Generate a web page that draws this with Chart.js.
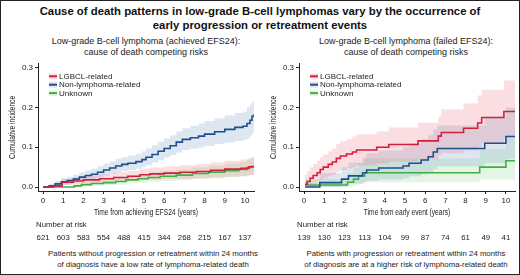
<!DOCTYPE html>
<html>
<head>
<meta charset="utf-8">
<script src="https://cdn.jsdelivr.net/npm/chart.js@4/dist/chart.umd.min.js"></script>
<style>
  body { margin: 0; background: #fff; }
  #frame { position: relative; width: 520px; height: 275px; box-sizing: border-box; border: 1px solid #222; overflow: hidden; font-family: "Liberation Sans", Arial, sans-serif; color: #222; }
  .t { position: absolute; text-align: center; white-space: nowrap; }
  #title { left: 0; width: 518px; top: 4px; font-weight: bold; font-size: 11.35px; line-height: 13.5px; color: #111; }
  .sub { font-size: 9px; line-height: 11px; top: 35px; width: 260px; }
  .foot { font-size: 7.8px; line-height: 10.5px; top: 248px; width: 260px; }
  canvas { position: absolute; top: 56px; }
</style>
</head>
<body>
<div id="frame">
  <div id="title" class="t">Cause of death patterns in low-grade B-cell lymphomas vary by the occurrence of<br>early progression or retreatment events</div>
  <div class="t sub" style="left:15px">Low-grade B-cell lymphoma (achieved EFS24):<br>cause of death competing risks</div>
  <div class="t sub" style="left:275px">Low-grade B-cell lymphoma (failed EFS24):<br>cause of death competing risks</div>
  <canvas id="left" width="260" height="190" style="left:0"></canvas>
  <canvas id="right" width="260" height="190" style="left:261px"></canvas>
  <div class="t foot" style="left:22px">Patients without progression or retreatment within 24 months<br>of diagnosis have a low rate of lymphoma-related death</div>
  <div class="t foot" style="left:275px">Patients with progression or retreatment within 24 months<br>of diagnosis are at a higher risk of lymphoma-related death</div>
</div>
<script>
// rows: [time, estimate, lower CI, upper CI]
const leftLgbcl = [
  [0, 0, 0, 0], [0.5, 0.003, 0, 0.009], [0.95, 0.012, 0.005, 0.02], [1.5, 0.015, 0.007, 0.025],
  [2.0, 0.018, 0.009, 0.029], [2.8, 0.021, 0.011, 0.033], [3.5, 0.024, 0.013, 0.037],
  [4.2, 0.027, 0.015, 0.041], [4.8, 0.031, 0.018, 0.046], [5.3, 0.033, 0.019, 0.049],
  [6.0, 0.035, 0.02, 0.052], [6.8, 0.037, 0.021, 0.055], [7.6, 0.039, 0.022, 0.058],
  [8.3, 0.042, 0.024, 0.062], [9.0, 0.045, 0.026, 0.066], [9.8, 0.047, 0.027, 0.069],
  [10.2, 0.051, 0.03, 0.074], [10.45, 0.052, 0.031, 0.076]
];
const leftOther = [
  [0, 0, 0, 0], [0.3, 0.003, 0, 0.008], [0.6, 0.008, 0.003, 0.015], [0.9, 0.013, 0.006, 0.022],
  [1.2, 0.016, 0.008, 0.026], [1.5, 0.02, 0.011, 0.031], [1.8, 0.025, 0.015, 0.037],
  [2.1, 0.029, 0.018, 0.042], [2.4, 0.032, 0.02, 0.046], [2.7, 0.037, 0.024, 0.052],
  [3.0, 0.043, 0.029, 0.059], [3.3, 0.048, 0.033, 0.065], [3.6, 0.053, 0.037, 0.071],
  [3.9, 0.057, 0.04, 0.075], [4.2, 0.06, 0.043, 0.079], [4.6, 0.064, 0.046, 0.084],
  [4.9, 0.069, 0.05, 0.09], [5.1, 0.075, 0.055, 0.097], [5.4, 0.082, 0.061, 0.105],
  [5.7, 0.09, 0.068, 0.114], [6.0, 0.097, 0.074, 0.122], [6.3, 0.104, 0.08, 0.13],
  [6.6, 0.113, 0.087, 0.14], [6.9, 0.12, 0.093, 0.148], [7.3, 0.124, 0.096, 0.154],
  [7.7, 0.128, 0.099, 0.16], [8.0, 0.133, 0.103, 0.166], [8.5, 0.139, 0.108, 0.173],
  [9.0, 0.145, 0.112, 0.18], [9.5, 0.15, 0.116, 0.186], [9.9, 0.153, 0.118, 0.19],
  [10.1, 0.16, 0.122, 0.2], [10.25, 0.168, 0.128, 0.208], [10.35, 0.178, 0.135, 0.215],
  [10.45, 0.183, 0.138, 0.218]
];
const leftUnknown = [
  [0, 0, 0, 0], [1.55, 0.003, 0, 0.008], [1.9, 0.006, 0.002, 0.013], [2.4, 0.009, 0.003, 0.017],
  [3.0, 0.011, 0.004, 0.02], [3.6, 0.014, 0.006, 0.024], [4.1, 0.018, 0.009, 0.029],
  [4.7, 0.021, 0.011, 0.033], [5.2, 0.024, 0.013, 0.037], [5.8, 0.027, 0.015, 0.041],
  [6.6, 0.03, 0.017, 0.045], [7.4, 0.034, 0.02, 0.05], [8.2, 0.037, 0.022, 0.054],
  [9.0, 0.041, 0.025, 0.059], [9.7, 0.044, 0.027, 0.063], [10.1, 0.049, 0.03, 0.07],
  [10.35, 0.052, 0.032, 0.075], [10.45, 0.052, 0.032, 0.075]
];

const rightLgbcl = [
  [0.05, 0.007, 0, 0.03], [0.15, 0.014, 0.002, 0.04], [0.3, 0.022, 0.005, 0.05],
  [0.45, 0.029, 0.009, 0.058], [0.65, 0.036, 0.013, 0.066], [0.8, 0.044, 0.018, 0.075],
  [0.95, 0.05, 0.022, 0.082], [1.2, 0.057, 0.027, 0.09], [1.4, 0.063, 0.031, 0.097],
  [1.6, 0.072, 0.038, 0.108], [1.8, 0.078, 0.043, 0.115], [2.1, 0.083, 0.047, 0.12],
  [2.4, 0.088, 0.05, 0.127], [2.6, 0.093, 0.054, 0.133], [3.6, 0.1, 0.059, 0.14],
  [4.2, 0.107, 0.064, 0.15], [5.65, 0.116, 0.07, 0.162], [6.65, 0.128, 0.079, 0.177],
  [6.8, 0.137, 0.085, 0.195], [7.9, 0.148, 0.092, 0.21], [8.6, 0.161, 0.101, 0.23],
  [8.8, 0.175, 0.11, 0.245], [9.9, 0.19, 0.125, 0.268], [10.45, 0.19, 0.125, 0.268]
];
const rightOther = [
  [0.05, 0, 0, 0.01], [0.78, 0.011, 0, 0.035], [1.86, 0.02, 0.004, 0.05],
  [2.2, 0.028, 0.008, 0.062], [2.9, 0.036, 0.012, 0.075], [3.1, 0.043, 0.016, 0.085],
  [3.7, 0.048, 0.019, 0.092], [4.9, 0.053, 0.022, 0.1], [5.2, 0.06, 0.027, 0.11],
  [5.8, 0.068, 0.032, 0.12], [6.15, 0.076, 0.038, 0.13], [6.4, 0.088, 0.046, 0.145],
  [6.6, 0.097, 0.052, 0.155], [8.95, 0.11, 0.06, 0.175], [10.0, 0.127, 0.07, 0.2],
  [10.45, 0.127, 0.07, 0.2]
];
const rightUnknown = [
  [0.05, 0.005, 0, 0.02], [2.15, 0.012, 0.001, 0.035], [2.45, 0.02, 0.004, 0.048],
  [2.7, 0.028, 0.008, 0.06], [3.0, 0.036, 0.012, 0.072], [8.7, 0.05, 0.018, 0.095],
  [10.0, 0.066, 0.018, 0.125], [10.45, 0.066, 0.018, 0.125]
];

const seriesNames = ["LGBCL-related", "Non-lymphoma-related", "Unknown"];
const xTicks = [0, 1, 2, 3, 4, 5, 6, 7, 8, 9, 10];
const yTicks = [0, 0.1, 0.2, 0.3];
const leftRisk = [621, 603, 583, 554, 488, 415, 344, 268, 215, 167, 137];
const rightRisk = [139, 130, 123, 113, 104, 99, 87, 74, 61, 49, 41];

const lineColors = ["#d31f3c", "#1f4f8d", "#3cb043"];
const bandColors = ["rgba(228,70,95,0.18)", "rgba(70,120,175,0.18)", "rgba(90,195,90,0.16)"];
const sans = "'Liberation Sans', Arial, sans-serif";

// axis titles are set in a condensed face in the original; squeeze them horizontally
function narrowText(ctx, text, x, y, rotate) {
  ctx.save();
  ctx.font = "8.5px " + sans;
  ctx.translate(x, y);
  if (rotate) ctx.rotate(-Math.PI / 2);
  ctx.scale(0.78, 1);
  ctx.textAlign = "center";
  ctx.textBaseline = "middle";
  ctx.fillStyle = "#222";
  ctx.fillText(text, 0, 0);
  ctx.restore();
}

// legend, axis titles and number-at-risk table
const panelText = {
  id: "panelText",
  afterDraw(chart) {
    const ctx = chart.ctx, a = chart.chartArea, xs = chart.scales.x;
    const opts = chart.options.plugins.panelText;
    ctx.save();
    ctx.font = "8px " + sans;
    ctx.textBaseline = "middle";
    seriesNames.forEach((name, i) => {
      const y = a.top + 12.5 + i * 8.4;
      const x = a.left + 11;
      ctx.fillStyle = bandColors[i];
      ctx.fillRect(x, y - 3, 8, 6);
      ctx.strokeStyle = lineColors[i];
      ctx.lineWidth = 2;
      ctx.beginPath();
      ctx.moveTo(x, y);
      ctx.lineTo(x + 8, y);
      ctx.stroke();
      ctx.fillStyle = "#222";
      ctx.textAlign = "left";
      ctx.fillText(name, x + 10, y + 0.5);
    });

    ctx.font = "7.8px " + sans;
    ctx.textAlign = "left";
    ctx.fillText("Number at risk", a.left - 2, a.bottom + 34);
    ctx.textAlign = "center";
    opts.risk.forEach((n, i) => {
      ctx.fillText(String(n), xs.getPixelForValue(xTicks[i]), a.bottom + 47);
    });
    ctx.restore();

    narrowText(ctx, opts.xTitle, (a.left + a.right) / 2, a.bottom + 22, false);
    narrowText(ctx, "Cumulative incidence", 12, (a.top + a.bottom) / 2, true);
  }
};

function makeChart(id, series, risk, xTitle) {
  const datasets = [];
  series.forEach((rows, i) => {
    datasets.push({
      data: rows.map(r => ({ x: r[0], y: r[1] })),
      borderColor: lineColors[i], borderWidth: 1.6, pointRadius: 0,
      stepped: true, fill: false
    });
  });
  series.forEach((rows, i) => {
    datasets.push({
      data: rows.map(r => ({ x: r[0], y: r[3] })),
      borderWidth: 0, pointRadius: 0, stepped: true,
      fill: "+1", backgroundColor: bandColors[i]
    });
    datasets.push({
      data: rows.map(r => ({ x: r[0], y: r[2] })),
      borderWidth: 0, pointRadius: 0, stepped: true, fill: false
    });
  });

  new Chart(document.getElementById(id), {
    type: "line",
    data: { datasets: datasets },
    options: {
      responsive: false,
      animation: false,
      devicePixelRatio: 1,
      layout: { padding: { top: 4, right: 7, bottom: 29, left: 0 } },
      plugins: {
        legend: { display: false },
        tooltip: { enabled: false },
        filler: { drawTime: "beforeDatasetsDraw" },
        panelText: { risk: risk, xTitle: xTitle }
      },
      scales: {
        x: {
          type: "linear", min: -0.25, max: 10.45,
          afterBuildTicks: s => { s.ticks = xTicks.map(v => ({ value: v })); },
          afterFit: s => { s.height = 27; },
          ticks: { font: { family: sans, size: 8 }, color: "#222", padding: 2, maxRotation: 0, autoSkip: false },
          grid: { drawOnChartArea: false, drawTicks: true, tickLength: 3, color: "#222" },
          border: { color: "#222", width: 1 }
        },
        y: {
          min: -0.01, max: 0.31,
          afterBuildTicks: s => { s.ticks = yTicks.map(v => ({ value: v })); },
          afterFit: s => { s.width = 37; },
          ticks: { font: { family: sans, size: 8 }, color: "#222", padding: 2, callback: v => v.toFixed(1) },
          grid: { drawOnChartArea: false, drawTicks: true, tickLength: 3, color: "#222" },
          border: { color: "#222", width: 1 }
        }
      }
    },
    plugins: [panelText]
  });
}

makeChart("left", [leftLgbcl, leftOther, leftUnknown], leftRisk, "Time from achieving EFS24 (years)");
makeChart("right", [rightLgbcl, rightOther, rightUnknown], rightRisk, "Time from early event (years)");
</script>
</body>
</html>
